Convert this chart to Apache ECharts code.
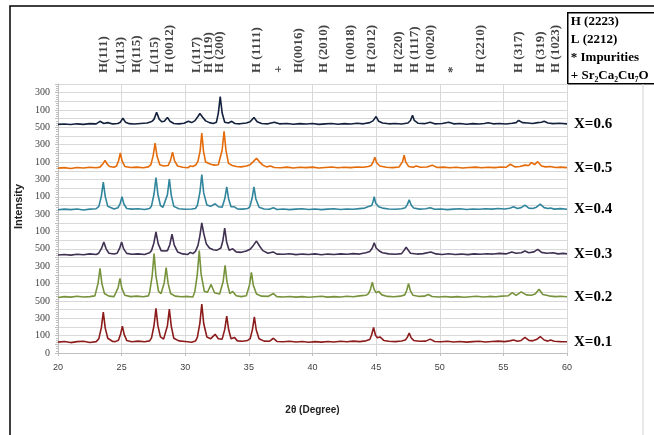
<!DOCTYPE html>
<html><head><meta charset="utf-8">
<script src="https://cdn.jsdelivr.net/npm/echarts/dist/echarts.min.js"></script>
<style>html,body{margin:0;padding:0;background:#fff}#c{width:654px;height:435px}</style>
</head><body><div id="c"></div>
<script>
// ---- data (2θ, relative intensity) ----
const seriesNames = ['X=0.1', 'X=0.2', 'X=0.3', 'X=0.4', 'X=0.5', 'X=0.6'];
const seriesColors = ['#8c1c1c', '#77933c', '#403152', '#31859c', '#e46c0a', '#14213d'];
const baselineOffsets = [125, 640, 1130, 1650, 2130, 2635];

const x01 = [[20,0],[20.5,8],[21,-5],[21.5,6],[22,10],[22.5,-4],[23,6],
 [23.21,40],[23.41,170],[23.56,345],[23.71,165],[23.91,45],[24.3,8],
 [24.5,6],[24.75,22],[24.92,95],[25.06,185],[25.2,90],[25.4,20],
 [25.8,5],[26.3,12],[26.8,4],[27.2,15],
 [27.35,50],[27.55,195],[27.7,390],[27.85,190],[28.05,60],[28.3,35],
 [28.4,50],[28.6,190],[28.75,380],[28.9,185],[29.1,45],
 [29.5,15],[30,8],[30.5,-2],[30.8,12],
 [30.95,55],[31.15,220],[31.3,440],[31.45,215],[31.7,60],
 [32.0,40],[32.35,90],[32.6,40],[32.9,35],
 [33.11,150],[33.26,300],[33.41,145],[33.6,40],[33.86,55],[34.1,15],
 [34.5,10],[34.9,20],
 [35.1,40],[35.28,145],[35.43,290],[35.58,140],[35.8,40],
 [36.2,12],[36.6,10],[36.93,45],[37.2,8],[37.7,4],[38.2,10],[38.7,2],[39.2,8],[39.7,-2],[40.2,6],[40.7,0],[41.2,8],[41.7,2],[42.2,10],[42.7,4],[43.2,12],[43.7,6],[44.2,15],
 [44.5,30],[44.65,85],[44.8,170],[44.95,80],[45.1,50],[45.3,60],[45.6,20],
 [46,10],[46.5,6],[47,14],
 [47.3,25],[47.45,55],[47.6,105],[47.75,50],[47.95,20],
 [48.4,10],[48.9,12],[49.25,35],[49.6,8],[50.1,4],[50.6,10],[51.1,2],[51.6,8],[52.1,0],[52.6,6],[53.1,10],[53.6,2],[54.1,8],[54.6,12],[55.1,6],[55.5,15],[55.8,25],[56.1,10],[56.4,20],[56.7,55],[57.0,20],[57.3,15],[57.6,30],[57.9,65],[58.2,25],[58.5,12],[58.7,25],[59.0,10],[59.5,6],[60,4]];

const x02 = [[20,0],[20.5,10],[21,4],[21.5,14],[22,6],[22.5,10],[22.9,18],
 [22.95,40],[23.15,165],[23.3,335],[23.45,160],[23.65,45],
 [24,15],[24.4,10],
 [24.55,30],[24.72,110],[24.87,220],[25.02,105],[25.25,25],
 [25.7,10],[26.2,15],[26.7,8],[27.1,18],
 [27.2,60],[27.4,250],[27.55,505],[27.7,245],[27.9,70],[28.1,45],
 [28.2,55],[28.35,170],[28.5,345],[28.65,165],[28.85,45],
 [29.2,15],[29.7,8],[30.2,12],[30.6,6],
 [30.75,65],[30.95,270],[31.1,540],[31.25,265],[31.5,70],
 [31.75,60],[32.03,150],[32.3,55],[32.7,40],
 [32.83,50],[32.98,185],[33.13,370],[33.28,180],[33.5,45],[33.73,70],[34,20],
 [34.4,10],[34.8,20],
 [34.88,40],[35.05,145],[35.2,290],[35.35,140],[35.6,40],
 [36,15],[36.5,12],[36.93,45],[37.2,10],[37.7,6],[38.2,12],[38.7,4],[39.2,10],[39.7,2],[40.2,8],[40.7,14],[41.2,4],[41.7,10],[42.2,6],[42.7,14],[43.2,8],[43.7,18],[44.2,25],
 [44.4,45],[44.55,90],[44.7,175],[44.85,90],[45.0,55],[45.2,70],[45.45,30],
 [45.9,12],[46.4,8],[46.9,15],
 [47.25,30],[47.4,80],[47.55,160],[47.7,75],[47.9,25],
 [48.4,12],[48.8,15],[49.1,35],[49.4,12],[49.9,6],[50.4,12],[50.9,4],[51.4,10],[51.9,2],[52.4,8],[52.9,14],[53.4,6],[53.9,12],[54.4,8],[54.9,15],[55.4,20],[55.7,55],[56.0,25],[56.4,65],[56.8,30],[57.2,25],[57.5,40],[57.8,95],[58.1,35],[58.4,25],[58.7,15],[59.1,10],[59.5,14],[60,8]];

const x03 = [[20,0],[20.5,6],[21,-2],[21.5,8],[22,2],[22.5,12],[23,6],
 [23.2,20],[23.42,75],[23.6,150],[23.78,70],[24.0,20],
 [24.4,10],
 [24.65,20],[24.84,75],[25.0,150],[25.16,70],[25.4,18],
 [25.8,8],[26.3,12],[26.8,6],[27.2,25],
 [27.35,50],[27.53,135],[27.7,265],[27.87,130],[28.1,50],[28.35,45],
 [28.6,50],[28.79,120],[28.96,240],[29.13,115],[29.4,35],
 [29.8,12],[30.2,6],[30.4,30],[30.6,15],[30.8,40],
 [31.0,110],[31.15,220],[31.3,370],[31.45,250],[31.65,130],[31.9,80],[32.2,60],[32.5,55],
 [32.8,80],[32.95,160],[33.1,310],[33.25,150],[33.45,55],[33.73,70],[34.0,35],
 [34.4,30],[34.8,45],
 [35.1,65],[35.35,110],[35.6,160],[35.85,100],[36.1,50],
 [36.5,20],[36.9,35],[37.2,10],[37.7,8],[38.2,14],[38.7,4],[39.2,10],[39.7,6],[40.2,12],[40.7,2],[41.2,10],[41.7,6],[42.2,12],[42.7,8],[43.2,15],[43.7,10],[44.2,25],
 [44.5,40],[44.7,80],[44.85,140],[45.0,80],[45.25,45],[45.5,25],
 [46,12],[46.5,8],[47,15],
 [47.1,30],[47.23,60],[47.36,90],[47.5,60],[47.7,20],
 [48.2,10],[48.7,15],[49.3,35],[49.7,12],[50.2,6],[50.7,14],[51.2,6],[51.7,10],[52.2,4],[52.7,12],[53.2,8],[53.7,14],[54.2,10],[54.7,18],[55.2,12],[55.66,35],[56.0,20],[56.4,25],[56.7,45],[57.0,25],[57.4,35],[57.7,65],[58.0,30],[58.4,20],[58.9,25],[59.3,12],[59.7,18],[60,12]];

const x04 = [[20,0],[20.5,8],[21,2],[21.5,10],[22,-2],[22.5,8],[23,12],
 [23.21,40],[23.41,160],[23.56,320],[23.71,155],[23.91,40],
 [24.4,10],
 [24.72,25],[24.89,75],[25.03,150],[25.17,70],[25.4,15],
 [25.8,8],[26.3,12],[26.8,4],[27.2,15],
 [27.35,45],[27.55,185],[27.7,370],[27.85,180],[28.05,50],[28.25,30],
 [28.4,45],[28.6,175],[28.75,355],[28.9,170],[29.1,40],
 [29.5,12],[30,6],[30.5,10],[30.8,15],
 [30.95,50],[31.15,200],[31.3,405],[31.45,195],[31.7,55],
 [32.0,40],[32.35,70],[32.6,35],[32.9,30],
 [33.11,130],[33.26,265],[33.41,125],[33.6,35],[33.86,35],[34.1,10],
 [34.5,8],[34.9,15],
 [35.07,35],[35.25,130],[35.4,265],[35.55,125],[35.8,30],
 [36.2,10],[36.6,6],[36.93,25],[37.2,4],[37.7,10],[38.2,2],[38.7,8],[39.2,12],[39.7,4],[40.2,10],[40.7,2],[41.2,8],[41.7,12],[42.2,4],[42.7,10],[43.2,6],[43.7,14],[44.1,20],
 [44.35,35],[44.5,55],[44.65,50],[44.75,90],[44.85,150],[44.97,75],[45.2,35],[45.5,20],
 [46,10],[46.5,6],[47,12],
 [47.3,25],[47.45,60],[47.6,115],[47.75,55],[47.95,20],
 [48.4,8],[48.9,12],[49.25,25],[49.6,6],[50.1,10],[50.6,2],[51.1,8],[51.6,12],[52.1,4],[52.6,10],[53.1,6],[53.6,12],[54.1,8],[54.6,15],[55.1,10],[55.5,18],[55.8,35],[56.1,15],[56.4,25],[56.7,55],[57.0,20],[57.3,15],[57.6,30],[57.9,65],[58.2,25],[58.5,15],[58.7,20],[59.0,8],[59.5,14],[60,6]];

const x05 = [[20,0],[20.5,6],[21,-4],[21.5,8],[22,2],[22.5,10],[23,4],[23.3,12],
 [23.4,25],[23.55,55],[23.7,90],[23.85,50],[24.05,20],
 [24.4,10],
 [24.6,25],[24.76,85],[24.9,175],[25.04,80],[25.25,20],
 [25.7,8],[26.2,12],[26.7,4],[27.1,15],
 [27.3,40],[27.48,145],[27.63,290],[27.78,140],[28.0,40],[28.3,25],
 [28.65,30],[28.84,90],[29.0,185],[29.16,85],[29.4,25],
 [29.8,10],[30.2,4],[30.4,25],[30.6,20],[30.85,40],
 [31.0,80],[31.17,200],[31.3,405],[31.43,200],[31.6,70],[31.75,80],[32.0,45],[32.3,35],[32.6,40],
 [32.75,60],[32.9,210],[33.05,425],[33.2,205],[33.4,55],[33.7,30],[34.0,20],
 [34.4,15],[34.8,25],
 [35.1,40],[35.35,75],[35.6,115],[35.85,70],[36.1,35],
 [36.4,15],[36.7,25],[37.0,8],[37.5,4],[38,12],[38.5,2],[39,10],[39.5,6],[40,12],[40.5,2],[41,8],[41.5,14],[42,4],[42.5,10],[43,6],[43.5,14],[44,10],[44.4,20],
 [44.6,30],[44.75,65],[44.9,125],[45.05,60],[45.3,25],
 [45.8,10],[46.3,6],[46.8,14],
 [46.95,30],[47.08,75],[47.2,150],[47.33,70],[47.55,20],
 [47.9,10],[48.15,25],[48.5,10],[49.0,14],[49.4,35],[49.8,8],[50.3,12],[50.8,4],[51.3,10],[51.8,2],[52.3,8],[52.8,12],[53.3,4],[53.8,10],[54.3,6],[54.8,14],[55.2,10],[55.55,45],[55.9,15],[56.3,20],[56.7,35],[57.0,30],[57.2,65],[57.45,40],[57.7,75],[58.0,25],[58.3,15],[58.7,20],[59.1,8],[59.5,12],[60,6]];

const x06 = [[20,0],[20.5,4],[21,-2],[21.5,6],[22,0],[22.5,8],[23,6],[23.3,35],[23.6,10],[23.9,20],[24.3,5],[24.7,10],
 [24.9,25],[25.1,70],[25.3,25],[25.6,8],[26,4],[26.5,10],[27.0,15],[27.2,25],[27.4,35],[27.55,60],[27.75,140],[27.95,60],[28.15,30],[28.35,35],[28.6,80],[28.8,35],[29.1,10],[29.5,6],[29.9,12],[30.25,35],[30.5,20],[30.75,40],[31.0,90],[31.15,125],[31.35,85],[31.6,40],[31.9,20],[32.2,10],[32.45,25],[32.6,130],[32.75,320],[32.9,130],[33.1,25],[33.4,15],[33.65,35],[33.9,10],[34.3,6],[34.8,15],[35.1,30],[35.4,80],[35.65,30],[36.0,10],[36.5,6],[37.0,25],[37.4,6],[38,10],[38.5,2],[39,8],[39.5,4],[40,10],[40.5,0],[41,6],[41.5,10],[42,2],[42.5,8],[43,4],[43.5,12],[44,6],[44.5,20],[44.75,40],[45.0,90],[45.2,35],[45.5,15],[46,6],[46.5,10],[47,4],[47.5,15],[47.7,45],[47.86,105],[48.0,45],[48.3,12],[48.8,8],[49.25,25],[49.6,6],[50.2,10],[50.7,25],[51.1,6],[51.6,10],[52.1,2],[52.6,8],[53.1,4],[53.5,10],[53.8,18],[54.2,6],[54.7,10],[55.2,4],[55.7,12],[56.0,20],[56.2,45],[56.5,20],[56.9,15],[57.3,10],[57.7,20],[58.0,25],[58.2,35],[58.5,15],[58.9,8],[59.4,12],[60,6]];

const patterns = [x01, x02, x03, x04, x05, x06];

// y tick labels (bottom to top, one per 200 units)
const yTickLabels = ['0','100','300','500','100','300','500','100','300','100','300','100','300','500','100','300'];

// reflection labels along the top
const peakLabels = ['H(111)','L(113)','H(115)','L(115)','H (0012)','L(117)','H (119)','H (200)','H (1111)','+','H(0016)','H (2010)','H (0018)','H (2012)','H (220)','H (1117)','H (0020)','*','H (2210)','H (317)','H (319)','H (1023)'];
const peakLabelPos = [23.6,24.93,26.19,27.63,28.8,30.9,31.8,32.74,35.6,37.3,38.9,40.87,42.96,44.66,46.75,47.99,49.25,51.03,53.2,56.2,57.9,59.07];

const legendLines = ['H (2223)','L (2212)','* Impurities','+ Sr\u2082Ca\u2082Cu\u2087O'];

// ---- chart ----
const chart = echarts.init(document.getElementById('c'), null, {renderer: 'canvas'});
const serif = 'Liberation Serif';

const lineSeries = patterns.map((pts, i) => ({
  name: seriesNames[i],
  type: 'line',
  xAxisIndex: 0, yAxisIndex: 0,
  data: pts.map(p => [p[0], p[1] + baselineOffsets[i]]),
  showSymbol: false,
  symbol: 'none',
  lineStyle: {color: seriesColors[i], width: 1.6},
  itemStyle: {color: seriesColors[i]},
  endLabel: {show: true, formatter: '{a}', distance: 7, fontFamily: serif, fontWeight: 'bold', fontSize: 15, color: '#000'},
  z: 3
}));

const option = {
  animation: false,
  backgroundColor: '#fff',
  grid: [
    {left: 58, top: 84, width: 509, height: 269},
    {left: 58, top: 10, width: 509, height: 63}
  ],
  xAxis: [
    {gridIndex: 0, type: 'value', min: 20, max: 60, interval: 5,
     name: '2\u03b8 (Degree)', nameLocation: 'middle', nameGap: 52,
     nameTextStyle: {fontFamily: 'Liberation Sans', fontWeight: 'bold', fontSize: 10, color: '#222'},
     axisLine: {show: true, lineStyle: {color: '#bfbfbf'}},
     axisTick: {show: true, length: 3, lineStyle: {color: '#bfbfbf'}},
     splitLine: {show: true, lineStyle: {color: '#d9d9d9', width: 1}},
     axisLabel: {fontFamily: 'Liberation Sans', fontSize: 9, color: '#404040', margin: 10}},
    {gridIndex: 1, type: 'value', min: 20, max: 60, show: false}
  ],
  yAxis: [
    {gridIndex: 0, type: 'value', min: 0, max: 3100, interval: 100,
     name: 'Intensity', nameLocation: 'middle', nameGap: 34,
     nameTextStyle: {fontFamily: 'Liberation Sans', fontWeight: 'bold', fontSize: 11, color: '#222', padding: [0, 0, 0, 24]},
     axisLine: {show: true, lineStyle: {color: '#bfbfbf'}},
     axisTick: {show: true, length: 3, lineStyle: {color: '#bfbfbf'}},
     minorTick: {show: true, splitNumber: 4, length: 2, lineStyle: {color: '#bfbfbf'}},
     splitLine: {show: true, lineStyle: {color: '#d9d9d9', width: 1}},
     axisLabel: {fontFamily: serif, fontSize: 10, color: '#404040', margin: 8,
       formatter: v => (Math.round(v) % 200 === 0 ? (yTickLabels[Math.round(v) / 200] || '') : '')}},
    {gridIndex: 1, type: 'value', min: 0, max: 1, show: false}
  ],
  series: lineSeries.concat([{
    type: 'scatter', xAxisIndex: 1, yAxisIndex: 1,
    symbolSize: 1,
    itemStyle: {color: 'rgba(0,0,0,0)'},
    data: peakLabels.map((n, i) => ({name: n, value: [peakLabelPos[i], 0]})),
    label: {show: true, formatter: '{b}', position: 'inside', rotate: 90, align: 'left', verticalAlign: 'middle',
      fontFamily: serif, fontWeight: 'bold', fontSize: 13, color: '#111'},
    silent: true
  }]),
  graphic: [
    {type: 'rect', shape: {x: 10, y: 6, width: 700, height: 500}, style: {fill: null, stroke: '#000', lineWidth: 1.5}, silent: true, z: 10},
    {type: 'line', shape: {x1: 643, y1: 84, x2: 643, y2: 435}, style: {stroke: '#d0d0d0', lineWidth: 1}, silent: true, z: 10},
    {type: 'group', left: 567, top: 12, z: 20, children: [
      {type: 'rect', shape: {x: 0, y: 0, width: 120, height: 71}, style: {fill: '#fff', stroke: '#000', lineWidth: 1.5}},
      ...legendLines.map((t, i) => ({type: 'text', x: 3, y: 9 + i * 18,
        style: {text: t, fill: '#000', font: 'bold 13px "Liberation Serif"', verticalAlign: 'middle', align: 'left'}}))
    ]}
  ]
};
chart.setOption(option);
</script>
</body></html>
